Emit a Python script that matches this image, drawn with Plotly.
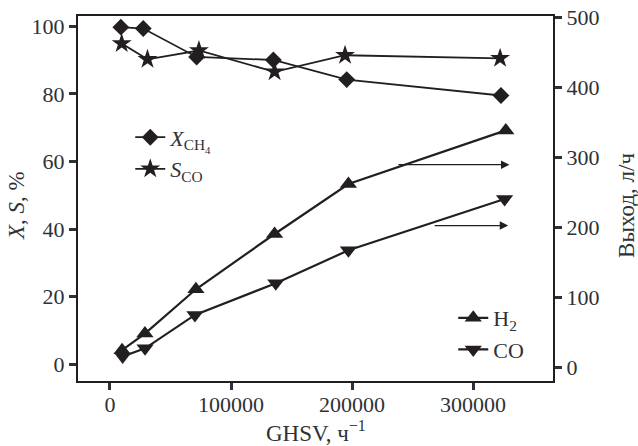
import plotly.graph_objects as go

# ---- data ----
ghsv_xch4 = [9000, 27500, 71600, 135000, 195600, 323000]
x_ch4 = [99.7, 99.3, 90.9, 90.0, 84.2, 79.5]

ghsv_sco = [9700, 31000, 73500, 136000, 194200, 322300]
s_co = [94.9, 90.2, 92.8, 86.5, 91.4, 90.5]

ghsv_h2 = [10000, 28900, 71000, 136000, 197000, 327000]
h2_yield = [25, 48.7, 112, 191, 262.4, 339]

ghsv_co = [10500, 29000, 70200, 137000, 197000, 326000]
co_yield = [16, 27.7, 75.4, 120.6, 167.7, 241]

# arrows pointing to the right axis: (start GHSV, end GHSV, yield level)
arrow_h2 = (237000, 330000, 290)
arrow_co = (267000, 329000, 203)

x_ticks = [0, 100000, 200000, 300000]
y_ticks = [0, 20, 40, 60, 80, 100]
y2_ticks = [0, 100, 200, 300, 400, 500]

INK = "#231f20"
FONT = "Liberation Serif, Times New Roman, serif"
TXT = "#2e3238"

fig = go.Figure()

fig.add_trace(go.Scatter(
    x=ghsv_xch4, y=x_ch4, mode="lines+markers",
    name="<i>X</i><sub>CH<sub>4</sub></sub>",
    line=dict(color=INK, width=1.8),
    marker=dict(symbol="diamond", size=13, color=INK),
    legend="legend"))
fig.add_trace(go.Scatter(
    x=ghsv_sco, y=s_co, mode="lines+markers",
    name="<i>S</i><sub>CO</sub>",
    line=dict(color=INK, width=1.8),
    marker=dict(symbol="star", size=15, color=INK),
    legend="legend"))
fig.add_trace(go.Scatter(
    x=ghsv_h2, y=h2_yield, mode="lines+markers", yaxis="y2",
    name="H<sub>2</sub>",
    line=dict(color=INK, width=2.2),
    marker=dict(symbol="triangle-up", size=15, color=INK),
    legend="legend2"))
fig.add_trace(go.Scatter(
    x=ghsv_co, y=co_yield, mode="lines+markers", yaxis="y2",
    name="CO",
    line=dict(color=INK, width=2.2),
    marker=dict(symbol="triangle-down", size=15, color=INK),
    legend="legend2"))

for (x0, x1, yv) in (arrow_h2, arrow_co):
    fig.add_annotation(x=x1, y=yv, ax=x0, ay=yv, xref="x", yref="y2",
                       axref="x", ayref="y2", text="", showarrow=True,
                       arrowhead=2, arrowsize=1.3, arrowwidth=1.3,
                       arrowcolor=INK)

# axis titles as annotations (exact placement)
title_font = dict(family=FONT, size=23, color=TXT)
fig.add_annotation(text="GHSV, ч<sup>−1</sup>", xref="paper", yref="paper",
                   x=0.5, y=-0.093, xanchor="center", yanchor="top",
                   showarrow=False, font=title_font)
fig.add_annotation(text="<i>X</i>, <i>S</i>, %", xref="paper", yref="paper",
                   x=-0.128, y=0.48, xanchor="center", yanchor="middle",
                   textangle=-90, showarrow=False, font=title_font)
fig.add_annotation(text="Выход, л/ч", xref="paper", yref="paper",
                   x=1.156, y=0.48, xanchor="center", yanchor="middle",
                   textangle=-90, showarrow=False, font=title_font)

axis_common = dict(showline=True, linecolor=INK, linewidth=2,
                   ticks="outside", tickcolor="#2e3238", tickwidth=3,
                   ticklen=7, showgrid=False, zeroline=False,
                   automargin=False,
                   tickfont=dict(family=FONT, size=22, color=TXT))

fig.update_layout(
    width=638, height=446,
    margin=dict(l=78, r=85, t=16, b=65),
    paper_bgcolor="white", plot_bgcolor="white",
    font=dict(family=FONT, size=22, color=TXT),
    xaxis=dict(range=[-26400, 366000], tickvals=x_ticks,
               ticktext=[str(v) for v in x_ticks], mirror=True,
               ticklabelstandoff=-4, **axis_common),
    yaxis=dict(range=[-4.9, 103], tickvals=y_ticks, **axis_common),
    yaxis2=dict(range=[-19, 502.4], tickvals=y2_ticks, overlaying="y",
                side="right", **axis_common),
    legend=dict(x=0.11, y=0.725, xanchor="left", yanchor="top",
                bgcolor="rgba(0,0,0,0)",
                font=dict(family=FONT, size=22, color=TXT)),
    legend2=dict(x=0.79, y=0.23, xanchor="left", yanchor="top",
                 bgcolor="rgba(0,0,0,0)",
                 font=dict(family=FONT, size=22, color=TXT)),
)

fig.write_html(
    "out.html",
    config={"displayModeBar": False},
    post_script="document.body.style.margin='0';"
                "document.body.style.overflow='hidden';")
